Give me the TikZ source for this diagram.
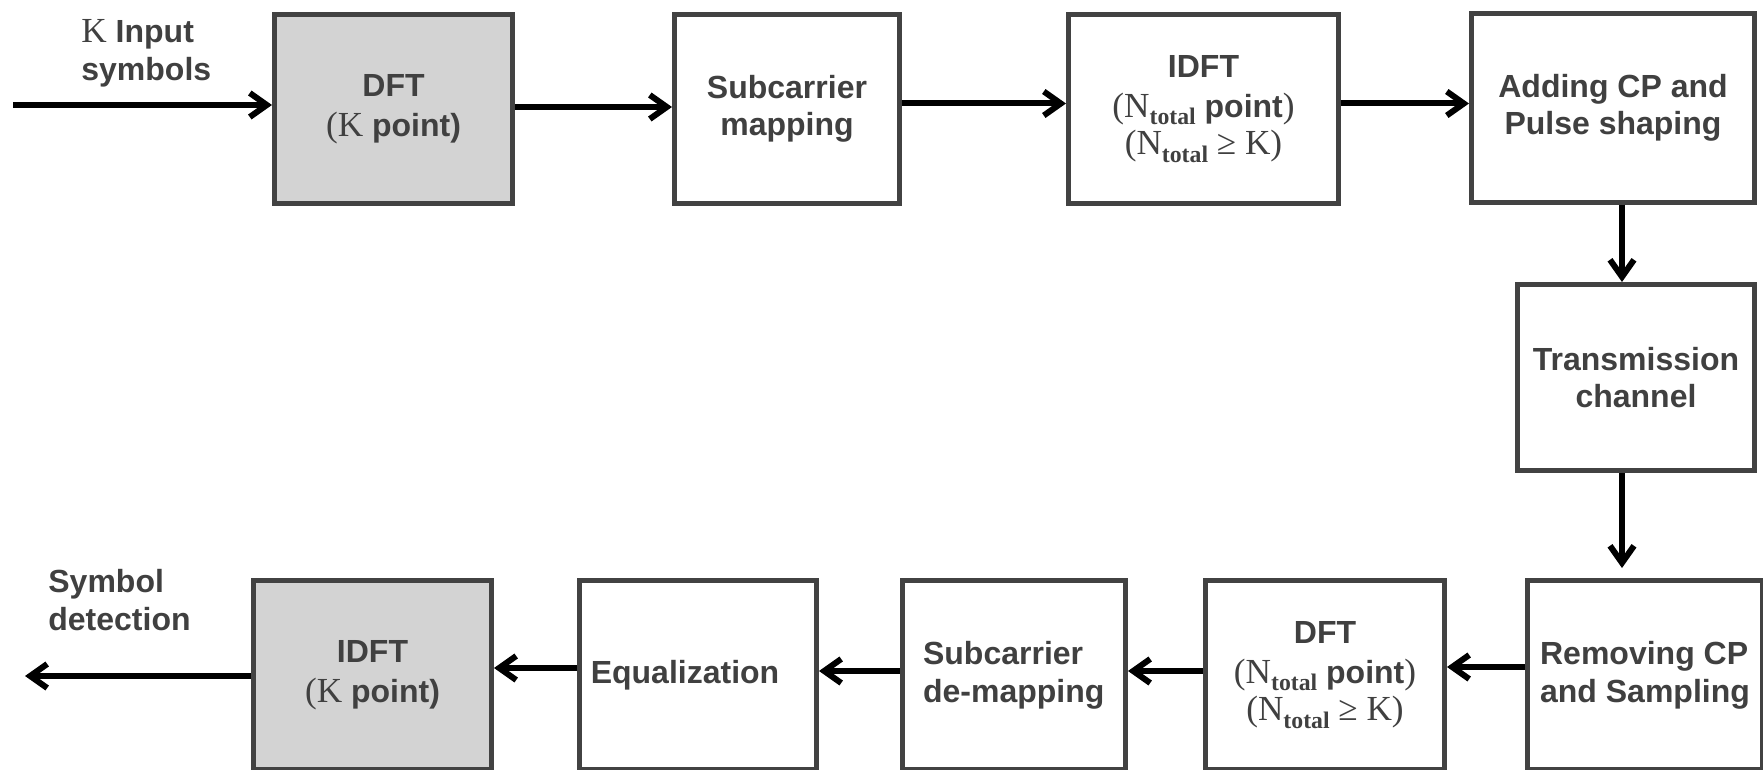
\documentclass[tikz,border=0pt]{standalone}
\usepackage{fontspec}
\setmainfont{Liberation Sans}
\newfontfamily\symfont[Scale=1.1]{Liberation Serif}
\usetikzlibrary{arrows.meta}

\definecolor{boxline}{RGB}{66,66,66}
\definecolor{txt}{RGB}{64,64,64}
\definecolor{shade}{RGB}{211,211,211}

% serif letters (K, N) and a lowered small subscript
\newcommand{\sym}[1]{{\symfont\mdseries #1}}
\newcommand{\subtxt}[1]{\raisebox{-0.45ex}{\fontsize{10.8}{10.8}\selectfont\bfseries #1}}

\begin{document}
\begin{tikzpicture}[x=0.5pt,y=-0.5pt,
  blk/.style={draw=boxline, line width=2.5pt, fill=white, text=txt,
    font=\bfseries\fontsize{16}{18.8}\selectfont, align=center,
    inner sep=2pt, minimum height=94.5pt},
  dark/.style={blk, fill=shade},
  lbl/.style={text=txt, font=\bfseries\fontsize{16}{18.8}\selectfont,
    align=left, inner sep=0pt, anchor=west},
  arr/.style={line width=3pt, draw=black,
    -{Straight Barb[length=8.5pt,width=12pt]}}
]
\useasboundingbox (0,0) rectangle (1763,770);

% transmitter chain
\node[dark, minimum width=119pt]   (dft)  at (393.5,109) {DFT\\[1pt]\sym{(K} point)};
\node[blk,  minimum width=112.5pt] (map)  at (787,109)   {Subcarrier\\mapping};
\node[blk,  minimum width=135pt]   (idft) at (1203.5,109)
  {IDFT\\[1pt]\sym{(N\subtxt{total}} point\sym{)}\\\sym{(N\subtxt{total} ≥ K)}};
\node[blk,  minimum width=141.5pt] (cp)   at (1613,108)  {Adding CP and\\Pulse shaping};

% channel
\node[blk, minimum width=118.5pt, minimum height=93pt] (chan) at (1636,377.5)
  {Transmission\\channel};

% receiver chain
\node[blk,  minimum width=117.5pt, align=left] (rcp)  at (1645,675) {Removing CP\\and Sampling};
\node[blk,  minimum width=119.5pt] (rdft) at (1325,675)
  {DFT\\[1pt]\sym{(N\subtxt{total}} point\sym{)}\\\sym{(N\subtxt{total} ≥ K)}};
\node[blk,  minimum width=111.75pt, align=left] (dmap) at (1013.75,675) {Subcarrier\\de-mapping};
\node[blk,  minimum width=118.5pt] (eq)   at (698,675)   {Equalization\hspace*{13pt}};
\node[dark, minimum width=119pt]   (ridft) at (372.5,675) {IDFT\\[1pt]\sym{(K} point)};

% free labels
\node[lbl] (inlbl)  at (81,53)  {\sym{K} Input\\symbols};
\node[lbl] (outlbl) at (48,600) {Symbol\\detection};

% free ends of the outer connectors
\coordinate (src) at (13,105);
\coordinate (dst) at (25,676);
\coordinate (chin) at (1622,568);

% connectors
\draw[arr] (src) -- (dft.west |- src);
\draw[arr] (dft.east |- 0,107) -- (map.west |- 0,107);
\draw[arr] (map.east |- 0,103.5) -- (idft.west |- 0,103.5);
\draw[arr] (idft.east |- 0,103.5) -- (cp.west |- 0,103.5);
\draw[arr] (cp.south -| chin) -- (chan.north -| chin);
\draw[arr] (chan.south -| chin) -- (chin);
\draw[arr] (rcp.west |- 0,667) -- (rdft.east |- 0,667);
\draw[arr] (rdft.west |- 0,671) -- (dmap.east |- 0,671);
\draw[arr] (dmap.west |- 0,671) -- (eq.east |- 0,671);
\draw[arr] (eq.west |- 0,668) -- (ridft.east |- 0,668);
\draw[arr] (ridft.west |- dst) -- (dst);
\end{tikzpicture}
\end{document}
